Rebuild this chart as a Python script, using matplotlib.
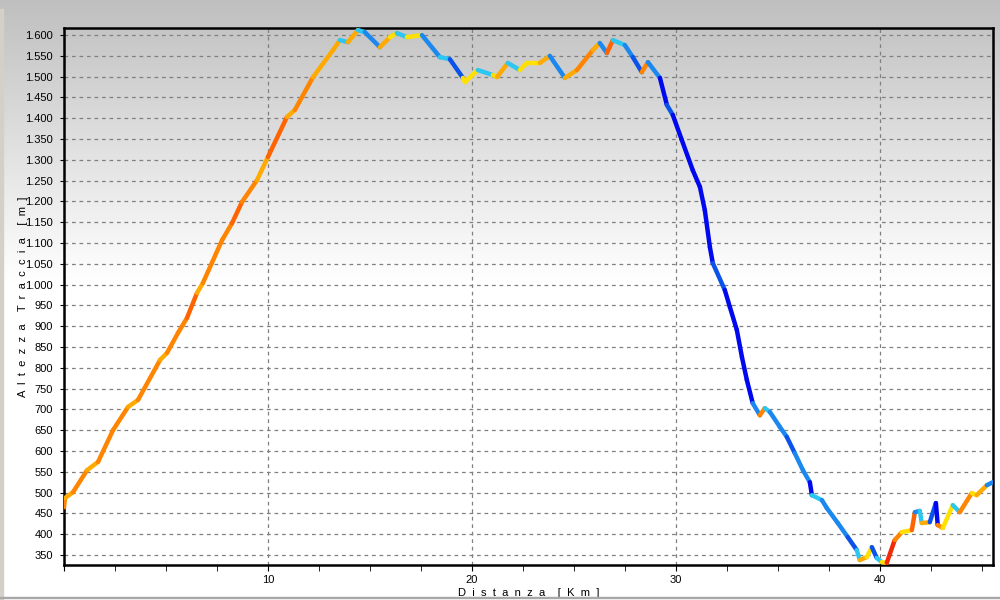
import matplotlib.pyplot as plt
import numpy as np
from matplotlib.collections import LineCollection
from matplotlib.patches import Rectangle
from matplotlib.ticker import FuncFormatter, MultipleLocator

# Track profile: distance (km) and elevation (m)
distanza = [0.00, 0.05, 0.44, 1.13, 1.67, 2.40, 3.14, 3.63, 4.71, 5.05, 5.59, 6.03,
            6.52, 6.81, 7.75, 8.24, 8.73, 9.46, 10.00, 10.93, 11.32, 12.21, 13.19,
            13.53, 13.92, 14.41, 14.75, 15.49, 15.98, 16.32, 16.81, 17.55, 18.43,
            18.92, 19.56, 19.66, 20.29, 21.03, 21.23, 21.76, 22.35, 22.70, 23.33,
            23.82, 24.56, 25.15, 25.93, 26.27, 26.62, 26.91, 27.50, 27.89, 28.33,
            28.63, 29.22, 29.56, 29.85, 30.29, 30.83, 31.18, 31.42, 31.67, 31.81,
            32.40, 32.65, 32.99, 33.24, 33.48, 33.77, 34.12, 34.36, 34.61, 35.10,
            35.44, 35.83, 36.23, 36.57, 36.67, 37.16, 37.40, 37.94, 38.43, 38.87,
            39.02, 39.36, 39.61, 39.85, 40.10, 40.34, 40.73, 41.08, 41.57, 41.72,
            41.96, 42.06, 42.45, 42.75, 42.84, 43.09, 43.58, 43.92, 44.51, 44.75,
            45.25, 45.54]
altezza = [465, 487, 501, 554, 574, 650, 706, 723, 819, 836, 884, 920,
           980, 1004, 1107, 1148, 1199, 1251, 1307, 1403, 1420, 1499, 1564,
           1588, 1583, 1612, 1607, 1571, 1595, 1605, 1595, 1600, 1547,
           1542, 1497, 1487, 1516, 1504, 1499, 1533, 1516, 1533, 1533,
           1550, 1497, 1516, 1564, 1581, 1557, 1588, 1576, 1547, 1511,
           1535, 1497, 1432, 1408, 1348, 1275, 1235, 1179, 1090, 1052,
           987, 946, 891, 826, 771, 715, 686, 703, 694, 658,
           634, 595, 554, 525, 494, 482, 463, 427, 393, 362,
           338, 345, 369, 343, 333, 331, 386, 405, 410, 453,
           456, 427, 429, 475, 422, 415, 470, 453, 499, 494,
           518, 525]

# colour class of each stretch between two points (0 = dark blue ... 8 = red)
classe = [6, 5, 6, 5, 6, 6, 5, 6, 5, 6,
          6, 7, 5, 6, 6, 7, 6, 5, 7, 5,
          6, 5, 5, 3, 5, 3, 2, 5, 4, 3,
          4, 2, 3, 1, 4, 4, 3, 4, 5, 3,
          4, 4, 5, 2, 5, 6, 5, 2, 7, 3,
          2, 1, 6, 2, 0, 1, 0, 0, 0, 0,
          0, 0, 1, 0, 0, 0, 0, 0, 2, 6,
          3, 2, 2, 1, 2, 2, 0, 3, 2, 2,
          2, 1, 3, 5, 4, 1, 3, 4, 8, 6,
          4, 7, 2, 3, 5, 1, 0, 6, 4, 3,
          6, 4, 5, 2]
palette = ['#0008ee', '#0a52ea', '#1a88ee', '#2cc6f2', '#ffe000',
           '#ffaa00', '#ff8400', '#ff6400', '#f02c08']

x = np.array(distanza)
y = np.array(altezza, dtype=float)

fig = plt.figure(figsize=(10, 6), dpi=100)

# grey-to-white background over the whole window
bg = fig.add_axes([0, 0, 1, 1], zorder=-10)
grad = np.interp(np.linspace(0, 1, 600), [0, 0.47, 1], [0.75, 1.0, 1.0])[:, None]
bg.imshow(np.dstack([grad] * 3), aspect='auto', extent=[0, 1, 0, 1], origin='upper')
bg.axis('off')
fig.patches.append(Rectangle((0, 0), 0.003, 0.985, transform=fig.transFigure,
                             color='#d4d0c8', zorder=5))
fig.patches.append(Rectangle((0, 0.003), 1, 0.002, transform=fig.transFigure,
                             color='#a8a8a8', zorder=5))

ax = fig.add_axes([0.064, 0.0583, 0.929, 0.895])
ax.patch.set_alpha(0)

pts = np.column_stack([x, y]).reshape(-1, 1, 2)
segs = np.concatenate([pts[:-1], pts[1:]], axis=1)
lc = LineCollection(segs, colors=[palette[c] for c in classe], linewidths=3.2,
                    capstyle='round', joinstyle='round', zorder=3)
ax.add_collection(lc)

ax.set_xlim(0, 45.55)
ax.set_ylim(326, 1617)

ax.xaxis.set_major_locator(MultipleLocator(10))
ax.xaxis.set_minor_locator(MultipleLocator(2.5))
ax.xaxis.set_major_formatter(FuncFormatter(lambda v, p: '' if v == 0 else f'{v:.0f}'))
ax.yaxis.set_major_locator(MultipleLocator(50))
ax.yaxis.set_major_formatter(FuncFormatter(lambda v, p: f'{v:,.0f}'.replace(',', '.')))

ax.grid(True, which='major', linestyle=(0, (3, 3)), color='#808080', linewidth=0.9)
for s in ax.spines.values():
    s.set_linewidth(1.8)
    s.set_color('black')

ax.tick_params(axis='both', which='major', labelsize=8, length=3, width=0.8, colors='black')
ax.tick_params(axis='x', which='both', length=4, pad=3)
ax.tick_params(axis='y', pad=5)
for lab in ax.get_xticklabels() + ax.get_yticklabels():
    lab.set_family('Liberation Sans')

ax.set_xlabel('D  i  s  t  a  n  z  a    [  K  m  ]', fontsize=8, family='Liberation Sans')
ax.set_ylabel('A  l  t  e  z  z  a    T  r  a  c  c  i  a    [  m  ]', fontsize=8,
              family='Liberation Sans')
ax.xaxis.set_label_coords(0.5, -0.043)
ax.yaxis.set_label_coords(-0.039, 0.5)

fig.savefig('out.png', dpi=100)
